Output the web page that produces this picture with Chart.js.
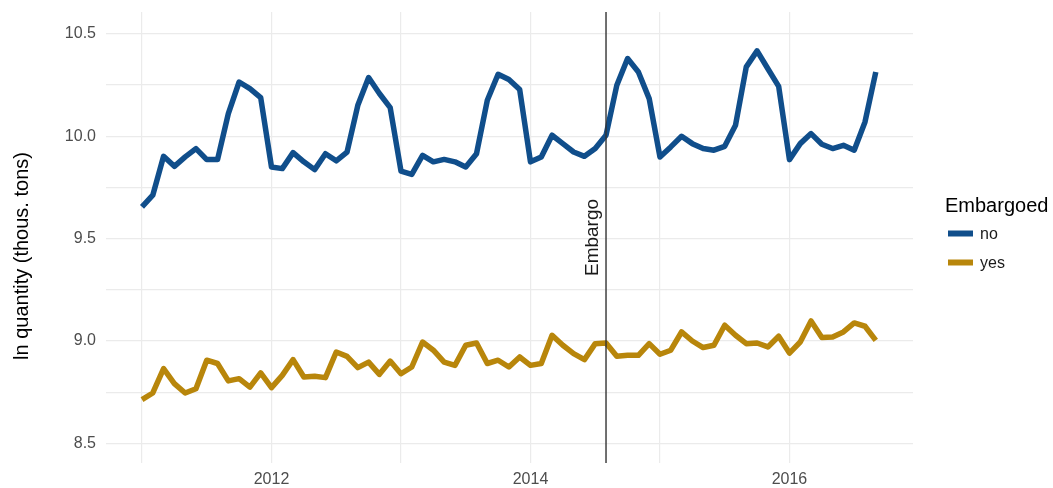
<!DOCTYPE html>
<html><head><meta charset="utf-8">
<script src="https://cdn.jsdelivr.net/npm/chart.js@4.4.0/dist/chart.umd.min.js"></script>
<style>html,body{margin:0;padding:0;background:#fff;} #wrap{width:1053px;height:488px;}</style>
</head><body><div id="wrap"><canvas id="c" width="1053" height="488"></canvas></div>
<script>
// ---- data ----
const startYear = 2011; // monthly observations starting January 2011
const seriesNames = ['no', 'yes'];
const noValues = [
  9.655, 9.712, 9.902, 9.853, 9.899, 9.940, 9.886, 9.886, 10.111, 10.265, 10.233, 10.189,
  9.850, 9.842, 9.920, 9.875, 9.837, 9.915, 9.880, 9.923, 10.151, 10.287, 10.209, 10.140,
  9.830, 9.814, 9.907, 9.875, 9.887, 9.875, 9.850, 9.915, 10.176, 10.303, 10.277, 10.228,
  9.875, 9.899, 10.005, 9.964, 9.923, 9.902, 9.940, 10.005, 10.249, 10.380, 10.314, 10.184,
  9.899, 9.948, 10.000, 9.964, 9.940, 9.932, 9.951, 10.054, 10.339, 10.417, 10.330, 10.244,
  9.886, 9.964, 10.013, 9.961, 9.940, 9.956, 9.932, 10.070, 10.314
];
const yesValues = [
  8.714, 8.746, 8.865, 8.792, 8.746, 8.767, 8.906, 8.890, 8.805, 8.816, 8.775, 8.844,
  8.772, 8.832, 8.909, 8.824, 8.828, 8.821, 8.946, 8.925, 8.870, 8.897, 8.837, 8.902,
  8.840, 8.873, 8.995, 8.955, 8.897, 8.881, 8.979, 8.990, 8.890, 8.906, 8.873, 8.922,
  8.881, 8.890, 9.028, 8.979, 8.938, 8.909, 8.987, 8.990, 8.925, 8.930, 8.930, 8.987,
  8.935, 8.955, 9.044, 9.000, 8.968, 8.979, 9.077, 9.028, 8.987, 8.990, 8.971, 9.023,
  8.941, 8.995, 9.098, 9.017, 9.020, 9.044, 9.088, 9.072, 9.003
];
const xGridYears = [2011, 2012, 2013, 2014, 2015, 2016];
const xLabelYears = [2012, 2014, 2016];
const yGridTicks = [8.5, 8.75, 9.0, 9.25, 9.5, 9.75, 10.0, 10.25, 10.5];
const yLabelTicks = [8.5, 9.0, 9.5, 10.0, 10.5];
const embargoDate = 2014 + 7 / 12; // August 2014
const embargoLabel = 'Embargo';
const legendTitle = 'Embargoed';
const yTitle = 'ln quantity (thous. tons)';

// ---- styles ----
const FONT = '"Liberation Sans", Arial, Helvetica, sans-serif';
const colors = { no: '#104E8B', yes: '#B8860B' };
const toPoints = vals => vals.map((v, i) => ({ x: startYear + i / 12, y: v }));

const overlay = {
  id: 'overlay',
  afterDatasetsDraw(chart) {
    const { ctx, chartArea, scales } = chart;
    const xe = scales.x.getPixelForValue(embargoDate);
    ctx.save();
    ctx.strokeStyle = '#333333';
    ctx.lineWidth = 1.4;
    ctx.beginPath();
    ctx.moveTo(xe, chartArea.top);
    ctx.lineTo(xe, chartArea.bottom);
    ctx.stroke();
    // embargo label
    ctx.translate(xe - 13, (chartArea.top + chartArea.bottom) / 2);
    ctx.rotate(-Math.PI / 2);
    ctx.fillStyle = '#1a1a1a';
    ctx.font = '19px ' + FONT;
    ctx.textAlign = 'center';
    ctx.textBaseline = 'middle';
    ctx.fillText(embargoLabel, 0, 0);
    ctx.restore();
  },
  afterDraw(chart) {
    const { ctx } = chart;
    ctx.save();
    // y axis title
    ctx.translate(22.5, 256);
    ctx.rotate(-Math.PI / 2);
    ctx.fillStyle = '#000';
    ctx.font = '20px ' + FONT;
    ctx.textAlign = 'center';
    ctx.textBaseline = 'middle';
    ctx.fillText(yTitle, 0, 0);
    ctx.restore();
    // legend
    ctx.save();
    ctx.fillStyle = '#000';
    ctx.font = '20px ' + FONT;
    ctx.textAlign = 'left';
    ctx.textBaseline = 'alphabetic';
    ctx.fillText(legendTitle, 945, 212);
    const rows = [{ name: seriesNames[0], y: 233.5 }, { name: seriesNames[1], y: 262.5 }];
    ctx.font = '16px ' + FONT;
    ctx.textBaseline = 'middle';
    rows.forEach(r => {
      ctx.strokeStyle = colors[r.name];
      ctx.lineWidth = 6;
      ctx.beginPath();
      ctx.moveTo(948, r.y);
      ctx.lineTo(973, r.y);
      ctx.stroke();
      ctx.fillStyle = '#1a1a1a';
      ctx.fillText(r.name, 980, r.y + 1.5);
    });
    ctx.restore();
  }
};

new Chart(document.getElementById('c'), {
  type: 'line',
  data: {
    datasets: [
      { label: seriesNames[0], data: toPoints(noValues), borderColor: colors.no, backgroundColor: colors.no,
        borderWidth: 5.5, pointRadius: 0, tension: 0, borderJoinStyle: 'round', borderCapStyle: 'butt', fill: false },
      { label: seriesNames[1], data: toPoints(yesValues), borderColor: colors.yes, backgroundColor: colors.yes,
        borderWidth: 5.5, pointRadius: 0, tension: 0, borderJoinStyle: 'round', borderCapStyle: 'butt', fill: false }
    ]
  },
  options: {
    responsive: false,
    animation: false,
    devicePixelRatio: 1,
    layout: { padding: { top: 12, right: 140, bottom: 0, left: 0 } },
    plugins: { legend: { display: false }, tooltip: { enabled: false } },
    scales: {
      x: {
        type: 'linear',
        min: 2010.722, max: 2016.954,
        afterBuildTicks: s => { s.ticks = xGridYears.map(v => ({ value: v })); },
        afterFit: s => { s.height = 25; },
        ticks: {
          autoSkip: false, maxRotation: 0, padding: 7,
          color: '#4d4d4d', font: { family: FONT, size: 16 },
          callback: v => xLabelYears.includes(v) ? String(v) : ''
        },
        grid: { color: '#ebebeb', lineWidth: 1.2, drawTicks: false },
        border: { display: false }
      },
      y: {
        min: 8.404, max: 10.607,
        afterBuildTicks: s => { s.ticks = yGridTicks.map(v => ({ value: v })); },
        afterFit: s => { s.width = 106; },
        ticks: {
          autoSkip: false, padding: 10,
          color: '#4d4d4d', font: { family: FONT, size: 16, lineHeight: 0.2 },
          callback: v => yLabelTicks.includes(v) ? v.toFixed(1) : ''
        },
        grid: { color: '#ebebeb', lineWidth: 1.2, drawTicks: false },
        border: { display: false }
      }
    }
  },
  plugins: [overlay]
});
</script>
</body></html>
